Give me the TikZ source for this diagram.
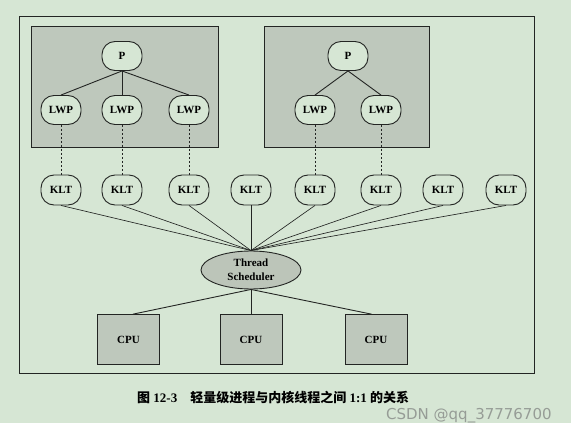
\documentclass[tikz,border=0pt]{standalone}
\usepackage{fontspec}
\setmainfont{Liberation Serif}
\newfontfamily\cjk{Noto Sans CJK SC}
\newfontfamily\wmfont{DejaVu Sans}
\usetikzlibrary{positioning,calc,shapes.geometric}

\definecolor{bggreen}{RGB}{214,230,212}
\definecolor{boxgray}{RGB}{190,200,188}
\definecolor{schedgray}{RGB}{188,197,185}
\definecolor{linedark}{RGB}{35,37,35}
\definecolor{wmgray}{RGB}{150,156,150}

\begin{document}
\begin{tikzpicture}[
    x=1pt, y=-1pt,
    lbl/.style={font=\fontsize{11}{13}\selectfont\bfseries},
    thr/.style={lbl, draw=linedark, line width=0.9pt, rounded corners=13pt,
                fill=bggreen, minimum width=40pt, minimum height=29pt, inner sep=1pt},
    klt/.style={thr, minimum width=40pt, minimum height=30pt},
    cpu/.style={lbl, draw=linedark, line width=0.9pt, fill=boxgray,
                minimum width=62pt, minimum height=50pt, inner sep=1pt},
    sched/.style={lbl, ellipse, draw=linedark, line width=0.9pt, fill=schedgray,
                  minimum width=100pt, minimum height=38pt, inner sep=0pt,
                  align=center, font=\fontsize{11}{14}\selectfont\bfseries},
    tree/.style={draw=linedark, line width=0.9pt},
    fan/.style={draw=linedark, line width=0.65pt},
    link/.style={draw=linedark, line width=0.7pt, dash pattern=on 2pt off 2pt},
    procbox/.style={draw=linedark, line width=0.8pt, fill=boxgray},
  ]

  % background and outer frame
  \useasboundingbox (0,0) rectangle (571,423);
  \fill[bggreen] (0,0) rectangle (571,423);
  \draw[linedark, line width=1pt] (19.5,16) rectangle (534.5,373);

  % ============================== Processes ===============================
  \draw[procbox] (31,26) rectangle (218,147);
  \draw[procbox] (264,26) rectangle (429,147);

  \node[thr] (p1) at (122,56) {P};
  \node[thr] (l1) at (61,110)  {LWP};
  \node[thr] (l2) at (122,110) {LWP};
  \node[thr] (l3) at (189,110) {LWP};

  \node[thr] (p2) at (348,56) {P};
  \node[thr] (l4) at (315,110) {LWP};
  \node[thr] (l5) at (381,110) {LWP};

  \foreach \l in {l1,l2,l3}
    \draw[tree] (p1.south) -- (\l.north);
  \foreach \l in {l4,l5}
    \draw[tree] (p2.south) -- (\l.north);

  % ============================== Kernel threads ==========================
  \node[sched] (ts) at (251,270) {Thread\\Scheduler};

  \foreach \x [count=\i] in {61,122,189,251,315,381,443,506} {
    \node[klt] (k\i) at (\x,190) {KLT};
    \draw[fan] (k\i.south) -- (ts.north);
  }

  \foreach \a/\b in {l1/k1, l2/k2, l3/k3, l4/k5, l5/k6}
    \draw[link] (\a) -- (\b);

  % ============================== CPUs ====================================
  \node[cpu] (c1) at (128.5,339.6) {CPU};
  \node[cpu] (c2) at (251,339.6)   {CPU};
  \node[cpu] (c3) at (376,339.6)   {CPU};

  \draw[tree] (ts.south) -- (c1.80);
  \draw[tree] (ts.south) -- (c2.north);
  \draw[tree] (ts.south) -- (c3.100);

  % ============================== Caption =================================
  \node[anchor=west, inner sep=0pt, font=\fontsize{13}{15}\selectfont\bfseries] (cap) at (137,397)
    {{\cjk 图} 12-3\quad{\cjk 轻量级进程与内核线程之间} 1:1 {\cjk 的关系}};
  \node[anchor=west, inner sep=0pt, text=wmgray, font=\wmfont\fontsize{15}{17}\selectfont]
    (wm) at (386,416) {CSDN @qq\_37776700};
\end{tikzpicture}
\end{document}
